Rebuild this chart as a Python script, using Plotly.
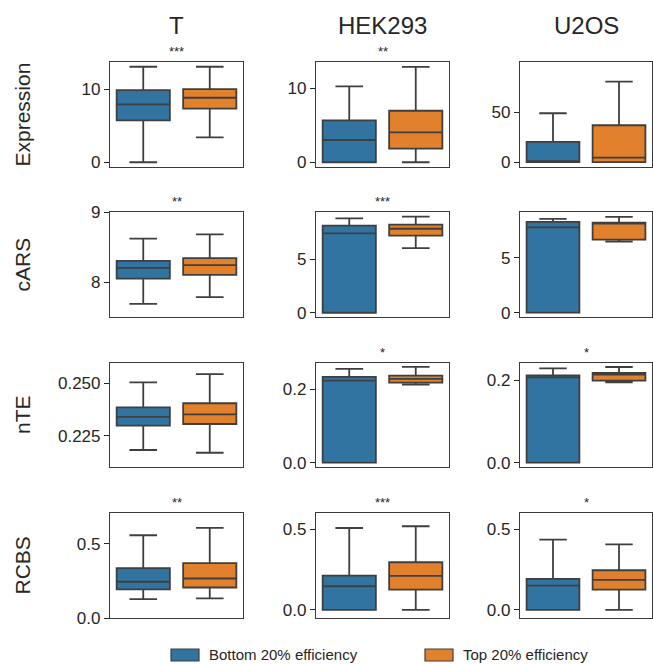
import plotly.graph_objects as go
from plotly.subplots import make_subplots

# ---------------- data ----------------
cells = ["T", "HEK293", "U2OS"]
metrics = ["Expression", "cARS", "nTE", "RCBS"]
groups = ["Bottom 20% efficiency", "Top 20% efficiency"]

# stats per cell line: [lower whisker, Q1, median, Q3, upper whisker]
expression_bottom = [[0.0, 5.75, 7.95, 9.9, 13.1], [0.0, 0.0, 3.01, 5.68, 10.27], [0.0, 0.0, 0.5, 20.3, 49.0]]
expression_top = [[3.42, 7.35, 8.85, 10.04, 13.1], [0.0, 1.84, 4.05, 6.97, 12.92], [0.0, 0.0, 4.6, 37.0, 80.6]]

cars_bottom = [[7.69, 8.05, 8.204, 8.304, 8.62], [0.0, 0.0, 7.44, 8.16, 8.85], [0.0, 0.0, 7.76, 8.25, 8.52]]
cars_top = [[7.786, 8.104, 8.243, 8.343, 8.68], [6.06, 7.22, 7.87, 8.25, 9.0], [6.45, 6.64, 8.09, 8.18, 8.7]]

nte_bottom = [[0.2182, 0.2298, 0.234, 0.2385, 0.2505], [0.0, 0.0, 0.2234, 0.2335, 0.2553], [0.0, 0.0, 0.2073, 0.2121, 0.2291]]
nte_top = [[0.2169, 0.2306, 0.2352, 0.2405, 0.2544], [0.2125, 0.218, 0.228, 0.237, 0.2608], [0.1951, 0.199, 0.2136, 0.2177, 0.2323]]

rcbs_bottom = [[0.1273, 0.1922, 0.2437, 0.3348, 0.556], [0.0, 0.0, 0.1467, 0.2128, 0.508], [0.0, 0.0, 0.151, 0.192, 0.436]]
rcbs_top = [[0.1317, 0.205, 0.2653, 0.3684, 0.6054], [0.0, 0.126, 0.2108, 0.2955, 0.519], [0.0, 0.126, 0.186, 0.246, 0.407]]

significance = [["***", "**", ""], ["**", "***", ""], ["", "*", "*"], ["**", "***", "*"]]

tick_values = [
    [[0, 10], [0, 10], [0, 50]],
    [[8, 9], [0, 5], [0, 5]],
    [[0.225, 0.25], [0.0, 0.2], [0.0, 0.2]],
    [[0.0, 0.5], [0.0, 0.5], [0.0, 0.5]],
]
tick_labels = [
    [["0", "10"], ["0", "10"], ["0", "50"]],
    [["8", "9"], ["0", "5"], ["0", "5"]],
    [["0.225", "0.250"], ["0.0", "0.2"], ["0.0", "0.2"]],
    [["0.0", "0.5"], ["0.0", "0.5"], ["0.0", "0.5"]],
]
y_ranges = [
    [[-0.655, 13.755], [-0.646, 13.57], [-4.8, 100.3]],
    [[7.504, 9.0], [-0.4, 9.44], [-0.39, 9.15]],
    [[0.2101, 0.2597], [-0.0117, 0.2715], [-0.0104, 0.242]],
    [[0.0, 0.7056], [-0.05, 0.601], [-0.05, 0.601]],
]

# ---------------- styling ----------------
W, H = 653, 664
BLUE = "#3274a1"
ORANGE = "#e1812c"
LINE = "#3f3f3f"
TXT = "#262626"
FONT = "Liberation Sans, Arial, sans-serif"

col_px = [(110, 243), (316, 449), (520, 652)]
row_px = [(62, 167), (212, 317), (363, 467), (513, 618)]

fig = make_subplots(rows=4, cols=3, horizontal_spacing=0.05, vertical_spacing=0.05)

data = {
    "Expression": (expression_bottom, expression_top),
    "cARS": (cars_bottom, cars_top),
    "nTE": (nte_bottom, nte_top),
    "RCBS": (rcbs_bottom, rcbs_top),
}

for r, m in enumerate(metrics):
    bottom, top = data[m]
    for c in range(3):
        for g, (stats, color) in enumerate(((bottom[c], BLUE), (top[c], ORANGE))):
            lo, q1, med, q3, hi = stats
            fig.add_trace(
                go.Box(
                    x=[g], lowerfence=[lo], q1=[q1], median=[med], q3=[q3], upperfence=[hi],
                    width=0.8, whiskerwidth=0.52, fillcolor=color,
                    line=dict(color=LINE, width=1.8), boxpoints=False,
                    name=groups[g], showlegend=False, hoverinfo="skip",
                ),
                row=r + 1, col=c + 1,
            )

annotations = []
for r in range(4):
    for c in range(3):
        idx = r * 3 + c + 1
        xa = "xaxis" if idx == 1 else f"xaxis{idx}"
        ya = "yaxis" if idx == 1 else f"yaxis{idx}"
        x0, x1 = col_px[c]
        y0, y1 = row_px[r]
        fig.layout[xa].update(
            domain=[x0 / W, x1 / W], range=[-0.5, 1.5], showticklabels=False, ticks="",
            showline=True, mirror=True, linecolor="#3a3a3a", linewidth=1.2,
            showgrid=False, zeroline=False, automargin=False,
        )
        fig.layout[ya].update(
            domain=[1 - y1 / H, 1 - y0 / H], range=y_ranges[r][c],
            tickvals=tick_values[r][c], ticktext=tick_labels[r][c],
            ticks="outside", ticklen=5, tickwidth=1.2, tickcolor=TXT,
            tickfont=dict(family=FONT, size=17, color=TXT),
            showline=True, mirror=True, linecolor="#3a3a3a", linewidth=1.2,
            showgrid=False, zeroline=False, automargin=False,
        )
        s = significance[r][c]
        if s:
            xref = "x domain" if idx == 1 else f"x{idx} domain"
            yref = "y domain" if idx == 1 else f"y{idx} domain"
            annotations.append(dict(
                text=s, x=0.5, y=1, xref=xref, yref=yref, xanchor="center", yanchor="bottom",
                yshift=1, showarrow=False, font=dict(family=FONT, size=13, color=TXT),
            ))

# column titles
for c, name in enumerate(cells):
    x0, x1 = col_px[c]
    annotations.append(dict(
        text=name, x=(x0 + x1) / 2 / W, y=1 - 25 / H, xref="paper", yref="paper",
        xanchor="center", yanchor="middle", showarrow=False,
        font=dict(family=FONT, size=24, color=TXT),
    ))

# row labels
for r, name in enumerate(metrics):
    y0, y1 = row_px[r]
    annotations.append(dict(
        text=name, x=22 / W, y=1 - (y0 + y1) / 2 / H, xref="paper", yref="paper",
        xanchor="center", yanchor="middle", showarrow=False, textangle=-90,
        font=dict(family=FONT, size=21, color=TXT),
    ))

# legend (patches + labels)
shapes = []
legend_items = [(171, BLUE, groups[0]), (425, ORANGE, groups[1])]
for px, color, label in legend_items:
    shapes.append(dict(
        type="rect", xref="paper", yref="paper",
        x0=px / W, x1=(px + 28) / W, y0=1 - 661 / H, y1=1 - 649 / H,
        fillcolor=color, line=dict(color=LINE, width=1.2),
    ))
    annotations.append(dict(
        text=label, x=(px + 36) / W, y=1 - 654 / H, xref="paper", yref="paper",
        xanchor="left", yanchor="middle", showarrow=False,
        font=dict(family=FONT, size=15, color=TXT),
    ))

fig.update_layout(
    width=W, height=H, margin=dict(l=0, r=0, t=0, b=0),
    paper_bgcolor="white", plot_bgcolor="white",
    annotations=annotations, shapes=shapes, showlegend=False, boxmode="overlay",
)

fig.write_html(
    "out.html",
    config={"displayModeBar": False},
    post_script="document.body.style.margin='0px';document.body.style.overflow='hidden';",
)
